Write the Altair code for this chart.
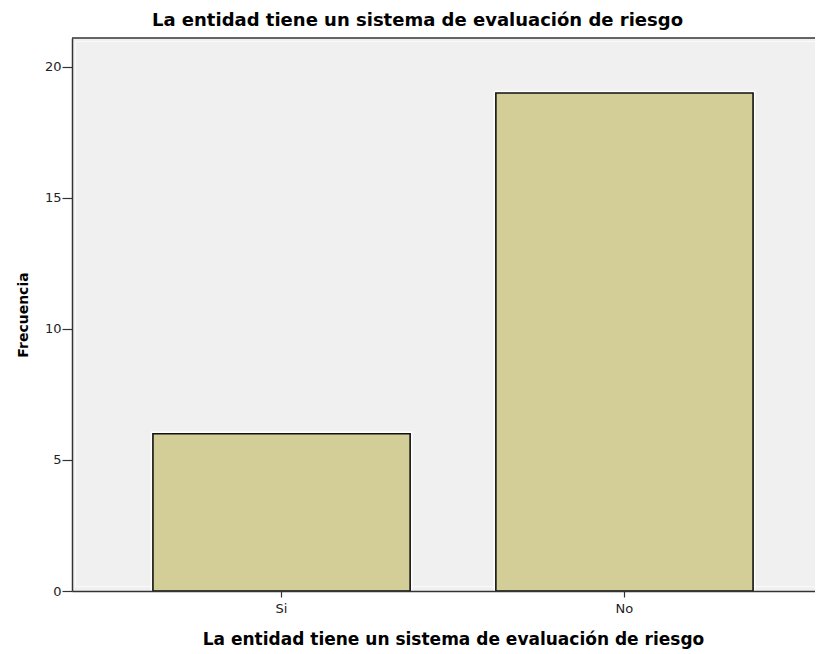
import altair as alt
import pandas as pd

categorias = ["Si", "No"]
frecuencias = [6, 19]
y_ticks = [0, 5, 10, 15, 20]

titulo = "La entidad tiene un sistema de evaluación de riesgo"

df = pd.DataFrame({"cat": categorias, "freq": frecuencias})

W = 743
H = 553
FONT = "DejaVu Sans"

x = alt.X(
    "cat:N",
    sort=categorias,
    title=titulo,
    scale=alt.Scale(range=[0, 762], paddingInner=0.25, paddingOuter=0.236),
    axis=alt.Axis(
        labelAngle=0, titleX=381, titlePadding=16, tickSize=6,
        labelPadding=5, zindex=1, titleFontSize=17,
    ),
)
y = alt.Y(
    "freq:Q",
    title="Frecuencia",
    scale=alt.Scale(domain=[0, 21.1], nice=False),
    axis=alt.Axis(values=y_ticks, grid=False, tickSize=10, labelPadding=1,
                  titlePadding=14, titleFontSize=14, zindex=1),
)

base = alt.Chart(df).encode(x=x, y=y)
halo = base.mark_bar(fill="#D3CE97", stroke="white", strokeWidth=4.5)
bars = base.mark_bar(fill="#D3CE97", stroke="#111111", strokeWidth=1.6)

deco = pd.DataFrame({"a": [0]})
top_rule = alt.Chart(deco).mark_rule(color="#333333", strokeWidth=1.5).encode(
    x=alt.value(0), x2=alt.value(W), y=alt.value(0)
)
inner_top = alt.Chart(deco).mark_rule(color="#FAFAFA", strokeWidth=1).encode(
    x=alt.value(3), x2=alt.value(W), y=alt.value(3.5)
)
inner_left = alt.Chart(deco).mark_rule(color="#FAFAFA", strokeWidth=1).encode(
    x=alt.value(3.5), y=alt.value(3.5), y2=alt.value(H - 4.5)
)
inner_bottom = alt.Chart(deco).mark_rule(color="#FAFAFA", strokeWidth=1).encode(
    x=alt.value(3), x2=alt.value(W), y=alt.value(H - 4.5)
)

chart = (
    alt.layer(inner_top, inner_left, inner_bottom, halo, bars, top_rule)
    .properties(
        width=W,
        height=H,
        title=alt.TitleParams(
            titulo, font=FONT, fontSize=18, fontWeight="bold", color="#000000",
            anchor="middle", dx=-26, offset=7,
        ),
        autosize=alt.AutoSizeParams(type="none"),
        padding={"left": 64, "top": 30, "right": 0, "bottom": 62},
    )
    .configure_view(fill="#F0F0F0", stroke=None)
    .configure_axis(
        domainColor="#333333", domainWidth=1.5, tickColor="#333333",
        tickWidth=1.2, labelFont=FONT, labelFontSize=13, labelColor="#222222",
        titleFont=FONT, titleFontWeight="bold", titleColor="#000000",
    )
)

chart.save("out.html", embed_options={"renderer": "svg", "actions": False})
